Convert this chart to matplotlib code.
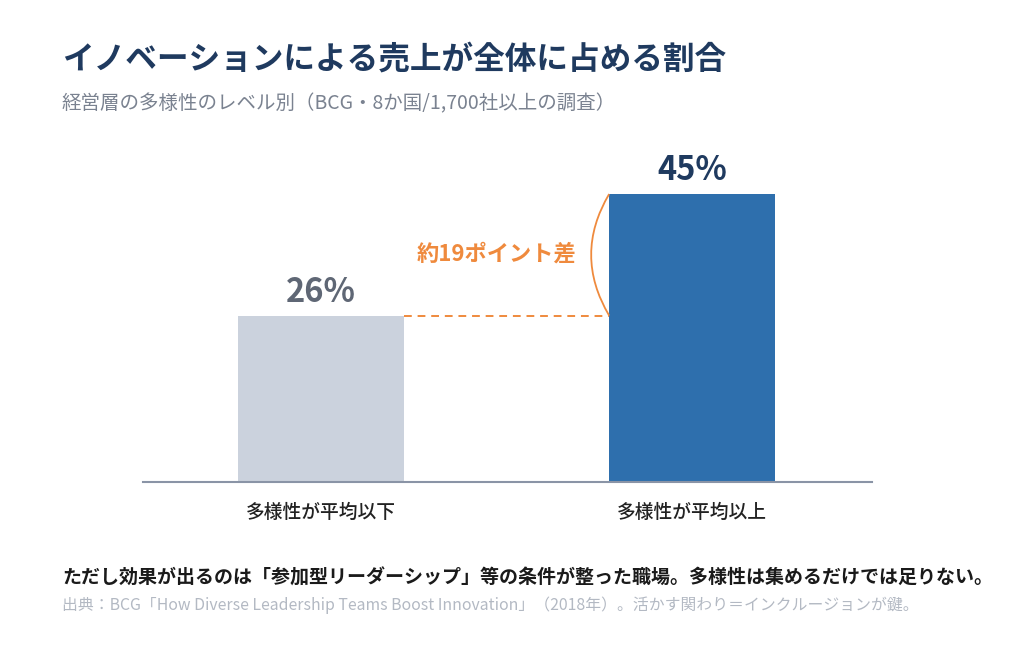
import matplotlib
matplotlib.use("Agg")
import matplotlib.pyplot as plt
from matplotlib.path import Path
from matplotlib.patches import PathPatch

plt.rcParams['font.family'] = ['Noto Sans CJK JP', 'DejaVu Sans']

categories = ['多様性が平均以下', '多様性が平均以上']
values = [26, 45]
value_labels = ['26%', '45%']
gap_label = '約19ポイント差'

title = 'イノベーションによる売上が全体に占める割合'
subtitle = '経営層の多様性のレベル別（BCG・8か国/1,700社以上の調査）'
note = 'ただし効果が出るのは「参加型リーダーシップ」等の条件が整った職場。多様性は集めるだけでは足りない。'
source = '出典：BCG「How Diverse Leadership Teams Boost Innovation」（2018年）。活かす関わり＝インクルージョンが鍵。'

bar_colors = ['#cbd2dd', '#2e6fad']
label_colors = ['#5f6775', '#1f3a5f']
orange = '#ef8a3d'

fig = plt.figure(figsize=(10.24, 6.66), dpi=100)
ax = fig.add_axes([143/1024, 1 - 482/666, 729/1024, 332.8/666])

w = 0.447
x = [0, 1]
ax.bar(x, values, width=w, color=bar_colors, zorder=2)
ax.set_xlim(-0.48, 1.485)
ax.set_ylim(0, 52)

for xi, v, lab, c in zip(x, values, value_labels, label_colors):
    ax.text(xi, v + 2.2, lab, ha='center', va='baseline', fontsize=23.5,
            fontweight='bold', color=c)

# dashed guide from low bar to high bar
ax.plot([x[0] + w/2, x[1] - w/2], [values[0], values[0]], ls=(0, (4, 3)),
        color=orange, lw=1.4, zorder=3)

# bracket between the two levels
xe = x[1] - w/2
path = Path([(xe, values[1]), (xe - 0.097, (values[0] + values[1]) / 2), (xe, values[0])],
            [Path.MOVETO, Path.CURVE3, Path.CURVE3])
ax.add_patch(PathPatch(path, fill=False, edgecolor=orange, lw=1.3, zorder=3))
ax.text(0.474, 35.6, gap_label, ha='center', va='center',
        fontsize=16, fontweight='bold', color=orange)

for s in ['top', 'right', 'left']:
    ax.spines[s].set_visible(False)
ax.spines['bottom'].set_color('#8a94a6')
ax.spines['bottom'].set_linewidth(1.5)
ax.set_yticks([])
ax.set_xticks(x)
ax.set_xticklabels(categories, fontsize=13.5, color='#222222', fontweight='medium')
ax.tick_params(axis='x', length=0, pad=15)

fig.text(62/1024, 1 - 60/666, title, fontsize=22.8, fontweight='bold',
         color='#1f3a5f', va='center')
fig.text(62/1024, 1 - 104/666, subtitle, fontsize=14, color='#7a8290', va='center')
fig.text(62/1024, 1 - 578/666, note, fontsize=13.7, fontweight='bold',
         color='#1a1a1a', va='center')
fig.text(62/1024, 1 - 605/666, source, fontsize=11.4, color='#b3b9c3', va='center')

fig.savefig('out.png', dpi=100)
